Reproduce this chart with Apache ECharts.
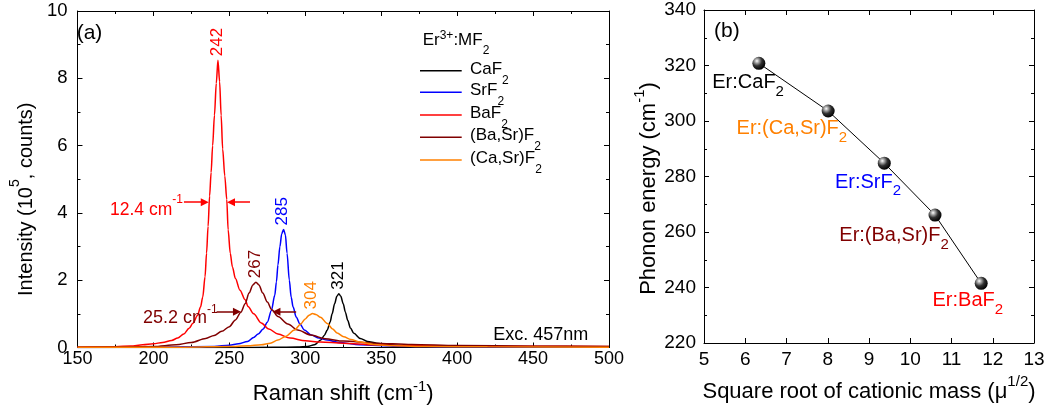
<!DOCTYPE html>
<html><head><meta charset="utf-8">
<script src="https://cdn.jsdelivr.net/npm/echarts@6/dist/echarts.min.js"></script>
<style>html,body{margin:0;padding:0;background:#fff}#c{width:1049px;height:410px}</style>
</head><body><div id="c"></div>
<script>
// ---------- DATA ----------
const seriesNames = ['CaF2', 'SrF2', 'BaF2', '(Ba,Sr)F2', '(Ca,Sr)F2'];
const seriesColors = ['#000000', '#0000ff', '#ff0000', '#800000', '#ff8000'];
const peakLabels = ['321', '285', '242', '267', '304'];

const caF2X = [150, 250, 280, 295, 301.5, 306, 310.2, 312.5, 314.5, 316.3, 317.7, 319.3, 320.8, 322.1, 323.4, 325, 326.4, 328, 329.7, 332, 336.2, 341, 347, 355, 368, 390, 420, 500];
const caF2Y = [0, 0, 0.005, 0.015, 0.03, 0.08, 0.22, 0.36, 0.52, 0.75, 1.0, 1.3, 1.52, 1.6, 1.52, 1.3, 1.05, 0.8, 0.58, 0.42, 0.27, 0.18, 0.13, 0.08, 0.04, 0.02, 0.01, 0.005];

const srF2X = [150, 200, 240, 250, 256, 262, 266, 269, 272.3, 275, 277.7, 279.9, 281, 282, 283.3, 284.5, 285.7, 286.9, 288, 289.5, 290.7, 292, 294, 296.5, 299.4, 304, 309, 314.5, 322, 336, 360, 400, 500];
const srF2Y = [0.003, 0.01, 0.03, 0.07, 0.11, 0.18, 0.3, 0.4, 0.55, 0.75, 1.1, 1.55, 1.95, 2.45, 3.0, 3.38, 3.51, 3.35, 2.8, 2.0, 1.5, 1.2, 0.91, 0.7, 0.52, 0.37, 0.28, 0.22, 0.15, 0.08, 0.04, 0.02, 0.01];

const baF2X = [150, 165, 175, 185, 193, 200, 206, 212, 216, 220, 223.5, 226, 229, 231, 232.5, 234, 235, 236, 237, 238, 239, 240.2, 241.4, 242.5, 243.6, 244.6, 245.6, 247, 248.3, 249.2, 250.6, 252, 254, 257, 260.4, 262.3, 266, 271, 276, 282, 290, 300, 310, 325, 345, 370, 400, 450, 500];
const baF2Y = [0.01, 0.015, 0.025, 0.045, 0.08, 0.11, 0.15, 0.21, 0.28, 0.4, 0.57, 0.72, 0.95, 1.2, 1.5, 2.1, 2.8, 3.6, 4.5, 5.2, 6.0, 6.9, 7.85, 8.54, 7.9, 6.9, 5.9, 5.1, 4.4, 3.5, 2.8, 2.4, 2.05, 1.7, 1.42, 1.22, 1.0, 0.73, 0.55, 0.4, 0.28, 0.2, 0.16, 0.13, 0.08, 0.06, 0.045, 0.035, 0.03];

const baSrF2X = [150, 180, 200, 215, 225, 234.4, 240, 245, 250, 254, 257.6, 260.4, 263, 265.5, 267.5, 269.5, 272, 275, 278, 282, 288.5, 295, 303.7, 313, 325, 345, 370, 400, 450, 500];
const baSrF2Y = [0.005, 0.015, 0.03, 0.08, 0.15, 0.27, 0.36, 0.48, 0.62, 0.82, 1.05, 1.3, 1.62, 1.86, 1.94, 1.86, 1.62, 1.35, 1.12, 0.92, 0.7, 0.52, 0.37, 0.26, 0.19, 0.13, 0.09, 0.06, 0.04, 0.03];

const caSrF2X = [150, 220, 250, 262, 271, 277, 282, 287, 292.9, 297, 300, 302.5, 304.7, 307, 310, 314.5, 318, 321, 325.3, 330, 336, 345, 358, 380, 420, 500];
const caSrF2Y = [0.005, 0.01, 0.03, 0.05, 0.08, 0.13, 0.22, 0.33, 0.52, 0.7, 0.85, 0.96, 1.01, 0.98, 0.9, 0.71, 0.55, 0.43, 0.32, 0.24, 0.16, 0.09, 0.05, 0.03, 0.02, 0.01];

// FWHM arrows (Raman shift from -> to, intensity level)
const redArrowsX = [[220.1, 233.8], [263.6, 251.1]];
const redArrowY = 4.32;
const darkArrowsX = [[241.6, 255.0], [294.0, 281.0]];
const darkArrowY = 1.06;

// panel (b)
const massX = [6.33, 8.01, 9.37, 10.6, 11.72];
const phononY = [320.8, 303.6, 284.8, 266.1, 241.5];
const phononNames = ['Er:CaF2', 'Er:(Ca,Sr)F2', 'Er:SrF2', 'Er:(Ba,Sr)F2', 'Er:BaF2'];
const phononColors = ['#000000', '#ff8000', '#0000ff', '#800000', '#ff0000'];

// ---------- STYLE / LAYOUT ----------
const FF = '"Liberation Sans", Arial, sans-serif';
const labelOffsets = [[-46.6, 19.7], [-91.6, 17.8], [-49.3, 19.2], [-95.7, 20.8], [-48.7, 17.5]];
const legendRows = [70.7, 92.3, 115, 137.3, 160];

function zr(S, s, raise, drop, color) {
  const Pm = Math.max(0, raise + s / 2 - S / 2);
  const Pu = Math.max(0, Pm + S / 2 - raise - s / 2);
  const Pd = Pm + S / 2 + drop - s / 2;
  return {
    center: Pm + S / 2,
    rich: {
      m: { font: S + 'px ' + FF, fill: color, height: S, padding: [Pm, 0, 0, 0], verticalAlign: 'top' },
      u: { font: s + 'px ' + FF, fill: color, height: s, padding: [Pu, 0, 0, 0], verticalAlign: 'top' },
      d: { font: s + 'px ' + FF, fill: color, height: s, padding: [Pd, 0, 0, 0], verticalAlign: 'top' }
    }
  };
}
function ecRich(S, s, raise) {
  const Pm = Math.max(0, raise + s / 2 - S / 2);
  const Pu = Math.max(0, Pm + S / 2 - raise - s / 2);
  return {
    m: { fontSize: S, fontFamily: FF, color: '#000', height: S, padding: [Pm, 0, 0, 0], verticalAlign: 'top' },
    u: { fontSize: s, fontFamily: FF, color: '#000', height: s, padding: [Pu, 0, 0, 0], verticalAlign: 'top' }
  };
}
function subFmt(t) { return '{m|' + t.replace(/2$/, '') + '}{d|2}'; }

const tickStyle = { color: '#000', width: 1 };
function axis(extra) {
  return Object.assign({
    type: 'value',
    axisLine: { show: true, onZero: false, lineStyle: { color: '#000', width: 1 } },
    axisTick: { show: true, inside: true, length: 5, lineStyle: tickStyle },
    minorTick: { show: false },
    splitLine: { show: false },
    axisLabel: { show: true, color: '#000', fontSize: 18, fontFamily: FF }
  }, extra);
}

const xs = [caF2X, srF2X, baF2X, baSrF2X, caSrF2X];
const ys = [caF2Y, srF2Y, baF2Y, baSrF2Y, caSrF2Y];

const series = seriesNames.map((n, i) => {
  const s = {
    name: n, type: 'line', xAxisIndex: 0, yAxisIndex: 0,
    data: xs[i].map((x, k) => [x, ys[i][k]]),
    showSymbol: false, symbol: 'none', smooth: 0.3, smoothMonotone: 'x',
    lineStyle: { color: seriesColors[i], width: 1.5 },
    itemStyle: { color: seriesColors[i] },
    z: 2 + i
  };
  if (n === 'BaF2' || n === '(Ba,Sr)F2') {
    const arr = n === 'BaF2' ? redArrowsX : darkArrowsX;
    const ay = n === 'BaF2' ? redArrowY : darkArrowY;
    s.markLine = {
      silent: true, animation: false, symbol: ['none', 'triangle'], symbolSize: 8,
      label: { show: false },
      lineStyle: { color: seriesColors[i], width: 1.5, type: 'solid' },
      data: arr.map(a => [{ coord: [a[0], ay] }, { coord: [a[1], ay] }])
    };
  }
  return s;
});

series.push({
  name: 'phonon', type: 'line', xAxisIndex: 2, yAxisIndex: 2,
  data: massX.map((x, i) => [x, phononY[i]]),
  symbol: 'circle', symbolSize: 13,
  lineStyle: { color: '#000', width: 1 },
  itemStyle: {
    color: new echarts.graphic.RadialGradient(0.35, 0.32, 0.7, [
      { offset: 0, color: '#ffffff' }, { offset: 0.2, color: '#b0b0b0' },
      { offset: 0.55, color: '#303030' }, { offset: 1, color: '#000000' }])
  },
  z: 5
});

const chart = echarts.init(document.getElementById('c'), null, { renderer: 'canvas' });
const option = {
  animation: false,
  backgroundColor: '#fff',
  grid: [
    { left: 70, top: 11, width: 539, height: 340 },
    { left: 704, top: 10, width: 330, height: 333 }
  ],
  xAxis: [
    axis({ gridIndex: 0, min: 150, max: 500, interval: 50, position: 'bottom',
      minorTick: { show: true, splitNumber: 2, length: 3, lineStyle: tickStyle },
      axisLabel: { color: '#000', fontSize: 18, fontFamily: FF, margin: 3 },
      name: '{m|Raman shift (cm}{u|-1}{m|)}', nameLocation: 'middle', nameGap: 32,
      nameTextStyle: { rich: ecRich(22, 15, 7) } }),
    axis({ gridIndex: 0, min: 150, max: 500, interval: 50, position: 'top',
      minorTick: { show: true, splitNumber: 2, length: 3, lineStyle: tickStyle },
      axisLabel: { show: false } }),
    axis({ gridIndex: 1, min: 5, max: 13, interval: 1, position: 'bottom',
      axisLabel: { color: '#000', fontSize: 19, fontFamily: FF, margin: 7 },
      name: '{m|Square root of cationic mass (μ}{u|1/2}{m|)}', nameLocation: 'middle', nameGap: 31,
      nameTextStyle: { rich: ecRich(22, 15, 10) } }),
    axis({ gridIndex: 1, min: 5, max: 13, interval: 1, position: 'top', axisLabel: { show: false } })
  ],
  yAxis: [
    axis({ gridIndex: 0, min: 0, max: 10, interval: 2, position: 'left',
      minorTick: { show: true, splitNumber: 2, length: 3, lineStyle: tickStyle },
      axisLabel: { color: '#000', fontSize: 18.5, fontFamily: FF, margin: 10 },
      name: '{m|Intensity (10}{u|5}{m|, counts)}', nameLocation: 'middle', nameGap: 28,
      nameTextStyle: { rich: ecRich(20, 14, 11), padding: [0, 40, 0, 0] } }),
    axis({ gridIndex: 0, min: 0, max: 10, interval: 2, position: 'right',
      minorTick: { show: true, splitNumber: 2, length: 3, lineStyle: tickStyle },
      axisLabel: { show: false } }),
    axis({ gridIndex: 1, min: 220, max: 340, interval: 20, position: 'left',
      minorTick: { show: true, splitNumber: 2, length: 3, lineStyle: tickStyle },
      axisLabel: { color: '#000', fontSize: 19, fontFamily: FF, margin: 8 },
      name: '{m|Phonon energy (cm}{u|-1}{m|)}', nameLocation: 'middle', nameGap: 43,
      nameTextStyle: { rich: ecRich(22, 15, 10), padding: [0, 24, 0, 0] } }),
    axis({ gridIndex: 1, min: 220, max: 340, interval: 20, position: 'right',
      minorTick: { show: true, splitNumber: 2, length: 3, lineStyle: tickStyle },
      axisLabel: { show: false } })
  ],
  series: series
};
chart.setOption(option);

// ---------- ANNOTATIONS ----------
const g = [];
function txt(x, y, text, rich, align) {
  g.push({ type: 'text', x: x, y: y, silent: true, z: 100,
    style: { text: text, rich: rich, align: align || 'left', verticalAlign: 'top', fill: '#000' } });
}
// panel letters
g.push({ type: 'text', x: 76.7, y: 33, silent: true, z: 100, style: { text: '(a)', font: '21px ' + FF, fill: '#000', align: 'left', verticalAlign: 'middle' } });
g.push({ type: 'text', x: 714, y: 31.7, silent: true, z: 100, style: { text: '(b)', font: '21px ' + FF, fill: '#000', align: 'left', verticalAlign: 'middle' } });
g.push({ type: 'text', x: 493.3, y: 335, silent: true, z: 100, style: { text: 'Exc. 457nm', font: '18px ' + FF, fill: '#000', align: 'left', verticalAlign: 'middle' } });

// legend
const lt = zr(17, 12, 5, 10, '#000');
txt(422.7, 40.8 - lt.center, '{m|Er}{u|3+}{m|:MF}{d|2}', lt.rich);
seriesNames.forEach((n, i) => {
  const ry = legendRows[i];
  g.push({ type: 'line', silent: true, z: 100, shape: { x1: 420, y1: ry, x2: 461.7, y2: ry }, style: { stroke: seriesColors[i], lineWidth: 1.5 } });
  const st = zr(17, 12, 0, 11, '#000');
  txt(470, ry - 1.5 - st.center, subFmt(n), st.rich);
});

// peak labels (rotated)
seriesNames.forEach((n, i) => {
  let k = 0; ys[i].forEach((v, j) => { if (v > ys[i][k]) k = j; });
  const p = chart.convertToPixel({ xAxisIndex: 0, yAxisIndex: 0 }, [xs[i][k], ys[i][k]]);
  g.push({ type: 'text', x: p[0] - 1, y: p[1] - 4, rotation: Math.PI / 2, silent: true, z: 100,
    style: { text: peakLabels[i], font: '17px ' + FF, fill: seriesColors[i], align: 'left', verticalAlign: 'middle' } });
});

// FWHM labels
const pr = chart.convertToPixel({ xAxisIndex: 0, yAxisIndex: 0 }, [redArrowsX[0][0], redArrowY]);
const rs = zr(17.5, 12, 10, 0, '#ff0000');
txt(pr[0] - 1, pr[1] + 7.7 - rs.center, '{m|12.4 cm}{u|-1}', rs.rich, 'right');
const pd = chart.convertToPixel({ xAxisIndex: 0, yAxisIndex: 0 }, [darkArrowsX[0][0], darkArrowY]);
const ds = zr(18, 12, 9, 0, '#800000');
txt(pd[0] + 1, pd[1] + 6.7 - ds.center, '{m|25.2 cm}{u|-1}', ds.rich, 'right');

// panel (b) labels
massX.forEach((x, i) => {
  const p = chart.convertToPixel({ xAxisIndex: 2, yAxisIndex: 2 }, [x, phononY[i]]);
  const st = zr(20, 15, 0, 8.7, phononColors[i]);
  txt(p[0] + labelOffsets[i][0], p[1] + labelOffsets[i][1] - st.center, subFmt(phononNames[i]), st.rich);
});

chart.setOption({ graphic: g });
</script>
</body></html>
